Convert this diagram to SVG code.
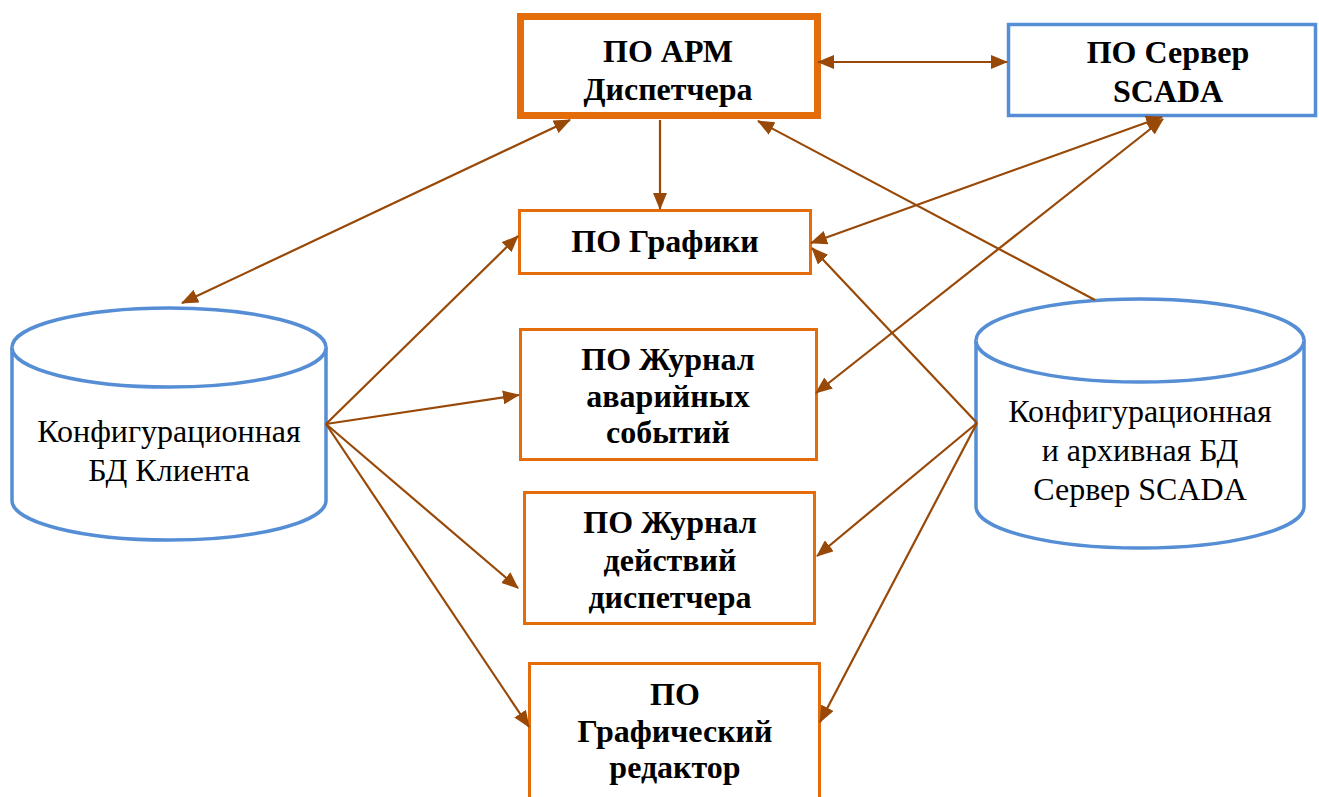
<svg xmlns="http://www.w3.org/2000/svg" width="1319" height="797" viewBox="0 0 1319 797">
<style>
.box{fill:#fff;stroke:#E46C0A;stroke-width:3}
.srv{fill:#fff;stroke:#558ED5;stroke-width:3.5}
.cyl{fill:#fff;stroke:#558ED5;stroke-width:3.5}
text{font-family:'Liberation Serif','Times New Roman','DejaVu Serif',serif;text-anchor:middle;fill:#000}
.b{font-weight:bold;font-size:32px}
.r{font-size:32px}
.c{fill:none;stroke:#984807;stroke-width:2.2}
</style>
<defs>
<marker id="ah" markerUnits="userSpaceOnUse" markerWidth="18" markerHeight="14" refX="16" refY="7" orient="auto-start-reverse" viewBox="0 0 18 14">
<path d="M0,0 L17,7 L0,14 z" fill="#984807"/>
</marker>
</defs>
<g id="apm">
<rect x="520.5" y="16.5" width="297" height="99" fill="#fff" stroke="#E46C0A" stroke-width="7"/>
<text class="b" x="668" y="62">ПО АРМ</text>
<text class="b" x="668" y="100">Диспетчера</text>
</g>
<g id="scada">
<rect class="srv" x="1008.5" y="24.5" width="307" height="91"/>
<text class="b" x="1168" y="63">ПО Сервер</text>
<text class="b" x="1168" y="102">SCADA</text>
</g>
<g id="graphics">
<rect class="box" x="519.5" y="210.5" width="291" height="63"/>
<text class="b" x="665" y="252">ПО Графики</text>
</g>
<g id="alarm">
<rect class="box" x="520.5" y="329.5" width="296" height="130"/>
<text class="b" x="668" y="370">ПО Журнал</text>
<text class="b" x="668" y="407">аварийных</text>
<text class="b" x="668" y="443">событий</text>
</g>
<g id="actions">
<rect class="box" x="524.5" y="492.5" width="290" height="131"/>
<text class="b" x="670" y="533">ПО Журнал</text>
<text class="b" x="670" y="571">действий</text>
<text class="b" x="670" y="608">диспетчера</text>
</g>
<g id="editor">
<rect class="box" x="529.5" y="663.5" width="290" height="145"/>
<text class="b" x="675" y="705">ПО</text>
<text class="b" x="675" y="742">Графический</text>
<text class="b" x="675" y="778">редактор</text>
</g>
<g id="db-client">
<path class="cyl" d="M12,347.5 A157,39.5 0 0 1 326,347.5 L326,500.5 A157,39.5 0 0 1 12,500.5 Z"/>
<path class="cyl" fill="none" d="M12,347.5 A157,39.5 0 0 0 326,347.5"/>
<text class="r" x="169" y="442">Конфигурационная</text>
<text class="r" x="169" y="481">БД Клиента</text>
</g>
<g id="db-server">
<path class="cyl" d="M976,340.5 A164,41.5 0 0 1 1304,340.5 L1304,506.5 A164,41.5 0 0 1 976,506.5 Z"/>
<path class="cyl" fill="none" d="M976,340.5 A164,41.5 0 0 0 1304,340.5"/>
<text class="r" x="1140" y="422">Конфигурационная</text>
<text class="r" x="1140" y="461">и архивная БД</text>
<text class="r" x="1140" y="500">Сервер SCADA</text>
</g>
<g id="connectors">
<line class="c" x1="182" y1="303" x2="570" y2="120" marker-start="url(#ah)" marker-end="url(#ah)"/>
<line class="c" x1="326" y1="424" x2="518" y2="236" marker-end="url(#ah)"/>
<line class="c" x1="326" y1="424" x2="519" y2="395" marker-end="url(#ah)"/>
<line class="c" x1="326" y1="424" x2="518" y2="588" marker-end="url(#ah)"/>
<line class="c" x1="326" y1="424" x2="529" y2="727" marker-end="url(#ah)"/>
<line class="c" x1="818" y1="62" x2="1007" y2="62" marker-start="url(#ah)" marker-end="url(#ah)"/>
<line class="c" x1="660" y1="120" x2="660" y2="209" marker-end="url(#ah)"/>
<line class="c" x1="1095" y1="300" x2="758" y2="121" marker-end="url(#ah)"/>
<line class="c" x1="811" y1="243" x2="1162" y2="117" marker-start="url(#ah)" marker-end="url(#ah)"/>
<line class="c" x1="816" y1="393" x2="1163" y2="119" marker-start="url(#ah)" marker-end="url(#ah)"/>
<line class="c" x1="977" y1="423" x2="812" y2="248" marker-end="url(#ah)"/>
<line class="c" x1="977" y1="423" x2="817" y2="556" marker-end="url(#ah)"/>
<line class="c" x1="977" y1="423" x2="820" y2="722" marker-end="url(#ah)"/>
</g>
</svg>
